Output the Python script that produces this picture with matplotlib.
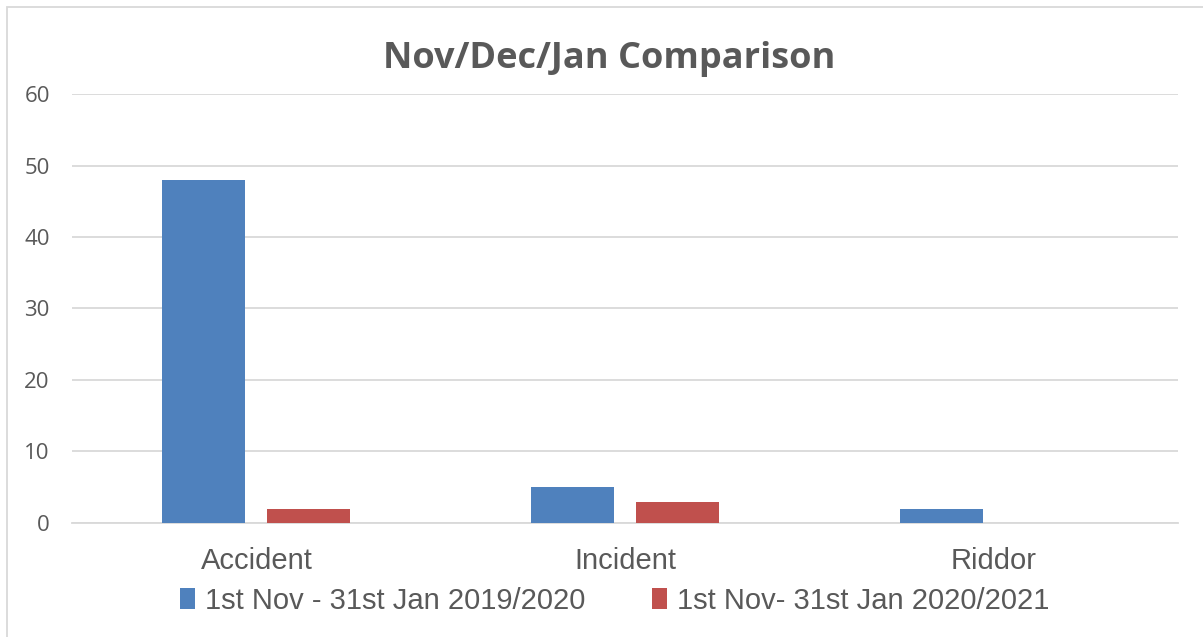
import matplotlib.pyplot as plt
import numpy as np
from matplotlib.patches import Rectangle

categories = ["Accident", "Incident", "Riddor"]
series_names = ["1st Nov - 31st Jan 2019/2020", "1st Nov- 31st Jan 2020/2021"]
values_1920 = [48, 5, 2]
values_2021 = [2, 3, 0]
y_ticks = [0, 10, 20, 30, 40, 50, 60]

blue = "#4F81BD"
red = "#C0504D"
grey_text = "#595959"

fig = plt.figure(figsize=(12.03, 6.37), dpi=100)
ax = fig.add_axes([0.0599, 0.179, 0.9193, 0.6734])

x = np.arange(len(categories))
w = 0.225
off = 0.1424
ax.bar(x - off, values_1920, w, color=blue, label=series_names[0], zorder=3)
ax.bar(x + off, values_2021, w, color=red, label=series_names[1], zorder=3)

ax.set_xlim(-0.5, 2.5)
ax.set_ylim(0, 60)
ax.set_yticks(y_ticks)
ax.yaxis.grid(True, color="#D9D9D9", linewidth=1.3, zorder=0)
ax.set_axisbelow(True)
for s in ["top", "right", "left"]:
    ax.spines[s].set_visible(False)
ax.spines["bottom"].set_color("#D9D9D9")
ax.spines["bottom"].set_linewidth(1.3)

ax.tick_params(axis="y", length=0, pad=16, labelsize=16, labelcolor=grey_text)
ax.tick_params(axis="x", length=0, pad=17, labelsize=21, labelcolor=grey_text)
for lab in ax.get_yticklabels():
    lab.set_family("Open Sans")
ax.set_xticks(x)
ax.set_xticklabels(categories, family=["Liberation Sans Narrow", "Liberation Sans"])

fig.text(0.5065, 0.908, "Nov/Dec/Jan Comparison", ha="center", va="center",
         fontsize=26, fontweight="bold", color=grey_text, family="Open Sans")

leg = fig.legend(loc="center", bbox_to_anchor=(0.511, 0.057), ncol=2, frameon=False,
                 prop={"family": ["Liberation Sans Narrow", "Liberation Sans"], "size": 21},
                 handlelength=0.5, handleheight=0.7, handletextpad=0.35, columnspacing=2.3,
                 labelcolor=grey_text)

# chart border (top/left visible in the reference)
fig.patches.append(Rectangle((0.006, -0.1), 1.2, 1.089, transform=fig.transFigure,
                             fill=False, edgecolor="#D9D9D9", linewidth=1.3))

fig.savefig("out.png", dpi=100)
